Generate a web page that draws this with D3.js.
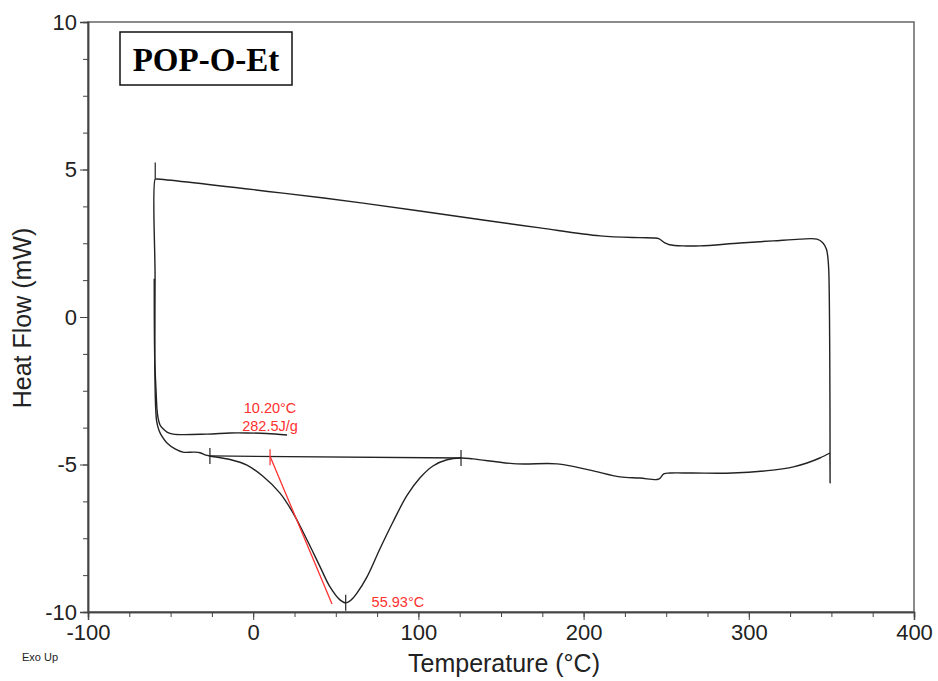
<!DOCTYPE html>
<html>
<head>
<meta charset="utf-8">
<script src="https://cdn.jsdelivr.net/npm/d3@7"></script>
<style>
    body { margin: 0; background: #fff; }
    #chart { width: 938px; height: 681px; }
    text { font-family: "Liberation Sans", Arial, sans-serif; }
</style>
</head>
<body>
<div id="chart"></div>
<script>

// DSC trace: [temperature °C, heat flow mW]
let firstCool = [
    [20.5, -4.00], [8, -3.95], [-3.8, -3.93], [-14, -3.93], [-28, -3.97], [-48.5, -3.97],
    [-52.2, -3.90], [-54.4, -3.80], [-56.4, -3.66], [-57.6, -3.42], [-58.2, -3.15],
    [-58.8, -2.50], [-59.6, -1.40], [-59.9, 1.30]
];

let heating = [
    [-59.6, -1.40], [-59.1, -3.00], [-58.4, -3.55], [-57.0, -3.85], [-55.2, -4.05],
    [-52.2, -4.27], [-47.3, -4.47], [-42.5, -4.58], [-36, -4.58], [-32.2, -4.60],
    [-28.6, -4.68], [-26.2, -4.71], [-14, -4.83], [-3.8, -5.02], [5.9, -5.40],
    [16.2, -5.97], [24.1, -6.64], [32.6, -7.56], [40.5, -8.47], [46.5, -9.15],
    [52.5, -9.59], [56.0, -9.69], [59.5, -9.58], [62.8, -9.36], [68.9, -8.81],
    [76.8, -7.85], [84.6, -6.95], [93.1, -6.05], [101.0, -5.45], [108.8, -5.05],
    [117.3, -4.84], [125.8, -4.78], [133.1, -4.81], [159.7, -4.98], [183.9, -4.98],
    [203.9, -5.19], [222.0, -5.42], [234.0, -5.46], [244.5, -5.51], [246.2, -5.47],
    [248.5, -5.32], [252.3, -5.29], [266, -5.29], [290, -5.29], [314.6, -5.19],
    [327, -5.08], [335.2, -4.95], [343, -4.78], [349.1, -4.61]
];

let cooling = [
    [349.1, -4.61], [349.2, -5.63], [349.0, -1.22], [348.4, 1.59], [347.8, 2.05], [347.0, 2.30],
    [344.9, 2.51], [341.3, 2.64], [331.0, 2.64], [314.6, 2.58], [294.7, 2.51],
    [270.4, 2.41], [260.2, 2.41], [252.0, 2.45], [249.2, 2.51], [245.5, 2.66],
    [242.0, 2.68], [234.0, 2.69], [210.0, 2.75], [173.6, 3.02], [139.1, 3.29],
    [66.5, 3.86], [18.0, 4.20], [-58.5, 4.68], [-59.3, 4.68], [-59.4, 1.30], [-59.6, -1.40]
];

// analysis marks
let tickMarks = [[-59.3, 4.97], [-26.2, -4.71], [125.8, -4.78], [56.0, -9.69]];
let baseline = [[-26.2, -4.71], [125.8, -4.78]];
let onsetTangent = [[10.2, -4.72], [47.7, -9.73]];
let onsetTemp = 10.20, enthalpy = 282.5, peakTemp = 55.93;

let xTicks = [-100, 0, 100, 200, 300, 400];
let yTicks = [-10, -5, 0, 5, 10];


class DscVis {

    constructor(parentElement) {
        this.parentElement = parentElement;
        this.initVis();
    }

    initVis() {
        let vis = this;

        vis.margin = {top: 22, right: 24, bottom: 69, left: 88};
        vis.width = 938 - vis.margin.left - vis.margin.right;
        vis.height = 681 - vis.margin.top - vis.margin.bottom;

        vis.svg = d3.select("#" + vis.parentElement).append("svg")
            .attr("width", 938)
            .attr("height", 681);

        vis.g = vis.svg.append("g")
            .attr("transform", `translate(${vis.margin.left}, ${vis.margin.top})`);

        vis.x = d3.scaleLinear().domain([-100, 400]).range([0, vis.width]);
        vis.y = d3.scaleLinear().domain([-10, 10]).range([vis.height, 0]);

        // frame (top + right, no ticks)
        vis.g.append("rect")
            .attr("width", vis.width)
            .attr("height", vis.height)
            .attr("fill", "none")
            .attr("stroke", "#666")
            .attr("stroke-width", 1.5);

        // minor ticks first, then major axes on top
        let xMinor = d3.range(-100, 401, 25);
        let yMinor = d3.range(-10, 10.01, 1.25);
        let plain = d => String(d);   // keep hyphen minus like the original

        vis.g.append("g")
            .attr("class", "x-minor")
            .attr("transform", `translate(0, ${vis.height})`)
            .call(d3.axisBottom(vis.x).tickValues(xMinor).tickSize(5).tickFormat(""));

        vis.g.append("g")
            .attr("class", "y-minor")
            .call(d3.axisLeft(vis.y).tickValues(yMinor).tickSize(5).tickFormat(""));

        vis.g.append("g")
            .attr("class", "x-axis")
            .attr("transform", `translate(0, ${vis.height})`)
            .call(d3.axisBottom(vis.x).tickValues(xTicks).tickSize(8).tickPadding(4).tickFormat(plain));

        vis.g.append("g")
            .attr("class", "y-axis")
            .call(d3.axisLeft(vis.y).tickValues(yTicks).tickSize(8).tickPadding(3).tickFormat(plain));

        vis.g.selectAll(".domain").attr("stroke", "#444").attr("stroke-width", 1.5);
        vis.g.selectAll(".tick line").attr("stroke", "#444");
        vis.g.selectAll(".x-axis text, .y-axis text")
            .attr("fill", "#222")
            .style("font-size", "22px")
            .style("font-family", "'Liberation Sans', Arial, sans-serif");

        // axis titles
        vis.svg.append("text")
            .attr("x", 504)
            .attr("y", 672)
            .attr("text-anchor", "middle")
            .attr("fill", "#222")
            .style("font-size", "25px")
            .text("Temperature (°C)");

        vis.svg.append("text")
            .attr("transform", `translate(31, ${vis.margin.top + vis.y(0) + 1}) rotate(-90)`)
            .attr("text-anchor", "middle")
            .attr("fill", "#222")
            .style("font-size", "25px")
            .text("Heat Flow (mW)");

        vis.svg.append("text")
            .attr("x", 22)
            .attr("y", 661)
            .attr("fill", "#222")
            .style("font-size", "11px")
            .text("Exo Up");

        // sample name box
        vis.svg.append("rect")
            .attr("x", 120).attr("y", 32)
            .attr("width", 172).attr("height", 53)
            .attr("fill", "#fff")
            .attr("stroke", "#111")
            .attr("stroke-width", 1.5);
        vis.svg.append("text")
            .attr("x", 206).attr("y", 71)
            .attr("text-anchor", "middle")
            .style("font-family", "'Liberation Serif', 'Times New Roman', serif")
            .style("font-weight", "bold")
            .style("font-size", "33px")
            .text("POP-O-Et");

        vis.updateVis();
    }

    updateVis() {
        let vis = this;

        let smooth = d3.line()
            .x(d => vis.x(d[0]))
            .y(d => vis.y(d[1]))
            .curve(d3.curveCatmullRom.alpha(0.5));
        let straight = d3.line()
            .x(d => vis.x(d[0]))
            .y(d => vis.y(d[1]));

        [firstCool, heating, cooling].forEach(seg => {
            vis.g.append("path")
                .datum(seg)
                .attr("fill", "none")
                .attr("stroke", "#222")
                .attr("stroke-width", 1.4)
                .attr("stroke-linejoin", "round")
                .attr("d", smooth);
        });

        // integration baseline
        vis.g.append("path")
            .datum(baseline)
            .attr("fill", "none")
            .attr("stroke", "#222")
            .attr("stroke-width", 1.3)
            .attr("d", straight);

        // little vertical markers
        vis.g.selectAll(".marker")
            .data(tickMarks)
            .enter()
            .append("line")
            .attr("class", "marker")
            .attr("x1", d => vis.x(d[0]))
            .attr("x2", d => vis.x(d[0]))
            .attr("y1", d => vis.y(d[1]) - 8)
            .attr("y2", d => vis.y(d[1]) + 8)
            .attr("stroke", "#222")
            .attr("stroke-width", 1.2);

        // onset tangent (red)
        let red = "#ff3030";
        vis.g.append("path")
            .datum(onsetTangent)
            .attr("fill", "none")
            .attr("stroke", red)
            .attr("stroke-width", 1.3)
            .attr("d", straight);

        vis.g.append("line")
            .attr("x1", vis.x(onsetTemp)).attr("x2", vis.x(onsetTemp))
            .attr("y1", vis.y(onsetTangent[0][1]) - 7)
            .attr("y2", vis.y(onsetTangent[0][1]) + 9)
            .attr("stroke", red)
            .attr("stroke-width", 1.2);

        vis.g.append("text")
            .attr("x", vis.x(onsetTemp))
            .attr("y", vis.y(onsetTangent[0][1]) - 43)
            .attr("text-anchor", "middle")
            .attr("fill", red)
            .style("font-size", "14.5px")
            .text(onsetTemp.toFixed(2) + "°C");

        vis.g.append("text")
            .attr("x", vis.x(onsetTemp))
            .attr("y", vis.y(onsetTangent[0][1]) - 25)
            .attr("text-anchor", "middle")
            .attr("fill", red)
            .style("font-size", "14.5px")
            .text(enthalpy.toFixed(1) + "J/g");

        vis.g.append("text")
            .attr("x", vis.x(peakTemp) + 26)
            .attr("y", vis.y(-9.69) + 4)
            .attr("fill", red)
            .style("font-size", "14.5px")
            .text(peakTemp.toFixed(2) + "°C");
    }
}

new DscVis("chart");
</script>
</body>
</html>
